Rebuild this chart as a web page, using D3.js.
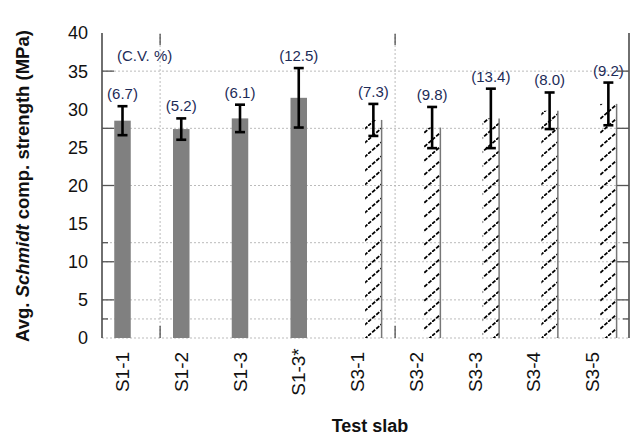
<!DOCTYPE html>
<html>
<head>
<meta charset="utf-8">
<script src="https://cdn.jsdelivr.net/npm/d3@7"></script>
<style>
  body { margin: 0; background: #fff; }
  svg { font-family: "Liberation Sans", Arial, sans-serif; }
</style>
</head>
<body>
<svg id="chart" width="631" height="441"></svg>
<script>
// Données
const slabs = ["S1-1", "S1-2", "S1-3", "S1-3*", "S3-1", "S3-2", "S3-3", "S3-4", "S3-5"];
const strength = [28.5, 27.4, 28.8, 31.5, 28.6, 27.6, 28.8, 29.8, 30.7];
const errors = [1.9, 1.4, 1.8, 3.9, 2.1, 2.7, 3.9, 2.4, 2.8];
const cvLabels = ["(6.7)", "(5.2)", "(6.1)", "(12.5)", "(7.3)", "(9.8)", "(13.4)", "(8.0)", "(9.2)"];
const hatched = [false, false, false, false, true, true, true, true, true];
const yTickLabels = [0, 5, 10, 15, 20, 25, 30, 35, 40];
const yTicksLong = [35, 27.5, 20, 10, 5];
const yTicksShort = [12.5, 2.5];
const xDividers = [0.64, 4.64];

const svg = d3.select("#chart");

// Échelles
const y = d3.scaleLinear().domain([0, 40]).range([338, 33]);
const x = d3.scaleLinear().domain([0, 8]).range([122.5, 592.5]);
const hatchShift = 0.27;
const leftX = 102, rightX = 629;

// Motif hachuré
const defs = svg.append("defs");
const pat = defs.append("pattern")
    .attr("id", "hatch")
    .attr("patternUnits", "userSpaceOnUse")
    .attr("width", 16)
    .attr("height", 14);
pat.append("path")
    .attr("d", "M0,14 L16,0")
    .attr("stroke", "#000")
    .attr("stroke-width", 1.7)
    .attr("stroke-dasharray", "4,1.5");

// Grille pointillée
const gridVals = yTicksLong.concat(yTicksShort, [0]);
svg.append("g").selectAll("line")
    .data(gridVals)
    .join("line")
    .attr("x1", leftX).attr("x2", rightX)
    .attr("y1", d => y(d)).attr("y2", d => y(d))
    .attr("stroke", "#bbb")
    .attr("stroke-dasharray", "2,2");

svg.append("g").selectAll("line")
    .data(xDividers)
    .join("line")
    .attr("x1", d => x(d)).attr("x2", d => x(d))
    .attr("y1", y(40)).attr("y2", y(0))
    .attr("stroke", "#bbb")
    .attr("stroke-dasharray", "2,2");

// Petites marques verticales haut/bas
xDividers.forEach(d => {
    svg.append("line")
        .attr("x1", x(d)).attr("x2", x(d))
        .attr("y1", y(40) + 1).attr("y2", y(40) + 12)
        .attr("stroke", "#444").attr("stroke-width", 1.2);
    svg.append("line")
        .attr("x1", x(d)).attr("x2", x(d))
        .attr("y1", y(0) - 12).attr("y2", y(0))
        .attr("stroke", "#444").attr("stroke-width", 1.2);
});

// Barres
const barW = 16.5;
const bars = svg.append("g");
slabs.forEach((s, i) => {
    const cx = hatched[i] ? x(i + hatchShift) : x(i);
    if (hatched[i]) {
        bars.append("rect")
            .attr("x", cx - barW / 2).attr("width", barW)
            .attr("y", y(strength[i])).attr("height", y(0) - y(strength[i]))
            .attr("fill", "url(#hatch)");
        bars.append("line")
            .attr("x1", cx + barW / 2).attr("x2", cx + barW / 2)
            .attr("y1", y(strength[i])).attr("y2", y(0))
            .attr("stroke", "#777").attr("stroke-width", 1.5);
    } else {
        bars.append("rect")
            .attr("x", cx - barW / 2).attr("width", barW)
            .attr("y", y(strength[i])).attr("height", y(0) - y(strength[i]))
            .attr("fill", "#808080");
    }
});

// Barres d'erreur
const errG = svg.append("g")
    .attr("stroke", "#000")
    .attr("stroke-width", 2.6);
slabs.forEach((s, i) => {
    const cx = hatched[i] ? x(i + hatchShift) : x(i);
    const top = y(strength[i] + errors[i]);
    const bot = y(strength[i] - errors[i]);
    errG.append("line").attr("x1", cx).attr("x2", cx).attr("y1", top).attr("y2", bot);
    errG.append("line").attr("x1", cx - 5).attr("x2", cx + 5).attr("y1", top).attr("y2", top);
    errG.append("line").attr("x1", cx - 5).attr("x2", cx + 5).attr("y1", bot).attr("y2", bot);
    svg.append("text")
        .attr("x", cx)
        .attr("y", top - 7)
        .attr("text-anchor", "middle")
        .attr("font-size", 15)
        .attr("fill", "#1c2b57")
        .text(cvLabels[i]);
});

svg.append("text")
    .attr("x", 117).attr("y", 61)
    .attr("font-size", 15)
    .attr("fill", "#1c2b57")
    .text("(C.V. %)");

// Axes gauche et droit
[leftX, rightX].forEach((ax, k) => {
    const dir = k === 0 ? 1 : -1;
    svg.append("line")
        .attr("x1", ax).attr("x2", ax)
        .attr("y1", y(40)).attr("y2", y(0))
        .attr("stroke", "#222").attr("stroke-width", 1.3);
    svg.append("g").selectAll("line")
        .data(yTicksLong)
        .join("line")
        .attr("x1", ax).attr("x2", ax + dir * 12)
        .attr("y1", d => y(d)).attr("y2", d => y(d))
        .attr("stroke", "#555").attr("stroke-width", 1.3);
    svg.append("g").selectAll("line")
        .data(yTicksShort)
        .join("line")
        .attr("x1", ax).attr("x2", ax + dir * 6)
        .attr("y1", d => y(d)).attr("y2", d => y(d))
        .attr("stroke", "#555").attr("stroke-width", 1.3);
});

// Libellés de l'axe Y
svg.append("g").selectAll("text")
    .data(yTickLabels)
    .join("text")
    .attr("x", 88)
    .attr("y", d => y(d))
    .attr("dy", "0.36em")
    .attr("text-anchor", "end")
    .attr("font-size", 18)
    .attr("fill", "#111")
    .text(d => d);

// Libellés de l'axe X (verticaux)
svg.append("g").selectAll("text")
    .data(slabs)
    .join("text")
    .attr("transform", (d, i) => `translate(${x(i) + 6.5},372) rotate(-90)`)
    .attr("text-anchor", "middle")
    .attr("font-size", 19)
    .attr("fill", "#111")
    .text(d => d);

// Titres
const yTitle = svg.append("text")
    .attr("transform", "translate(29,186) rotate(-90)")
    .attr("text-anchor", "middle")
    .attr("font-size", 18.5)
    .attr("font-weight", "bold")
    .attr("fill", "#111");
yTitle.append("tspan").text("Avg. ");
yTitle.append("tspan").attr("font-style", "italic").text("Schmidt");
yTitle.append("tspan").text(" comp. strength (MPa)");

svg.append("text")
    .attr("x", 370).attr("y", 432)
    .attr("text-anchor", "middle")
    .attr("font-size", 18)
    .attr("font-weight", "bold")
    .attr("fill", "#111")
    .text("Test slab");
</script>
</body>
</html>
